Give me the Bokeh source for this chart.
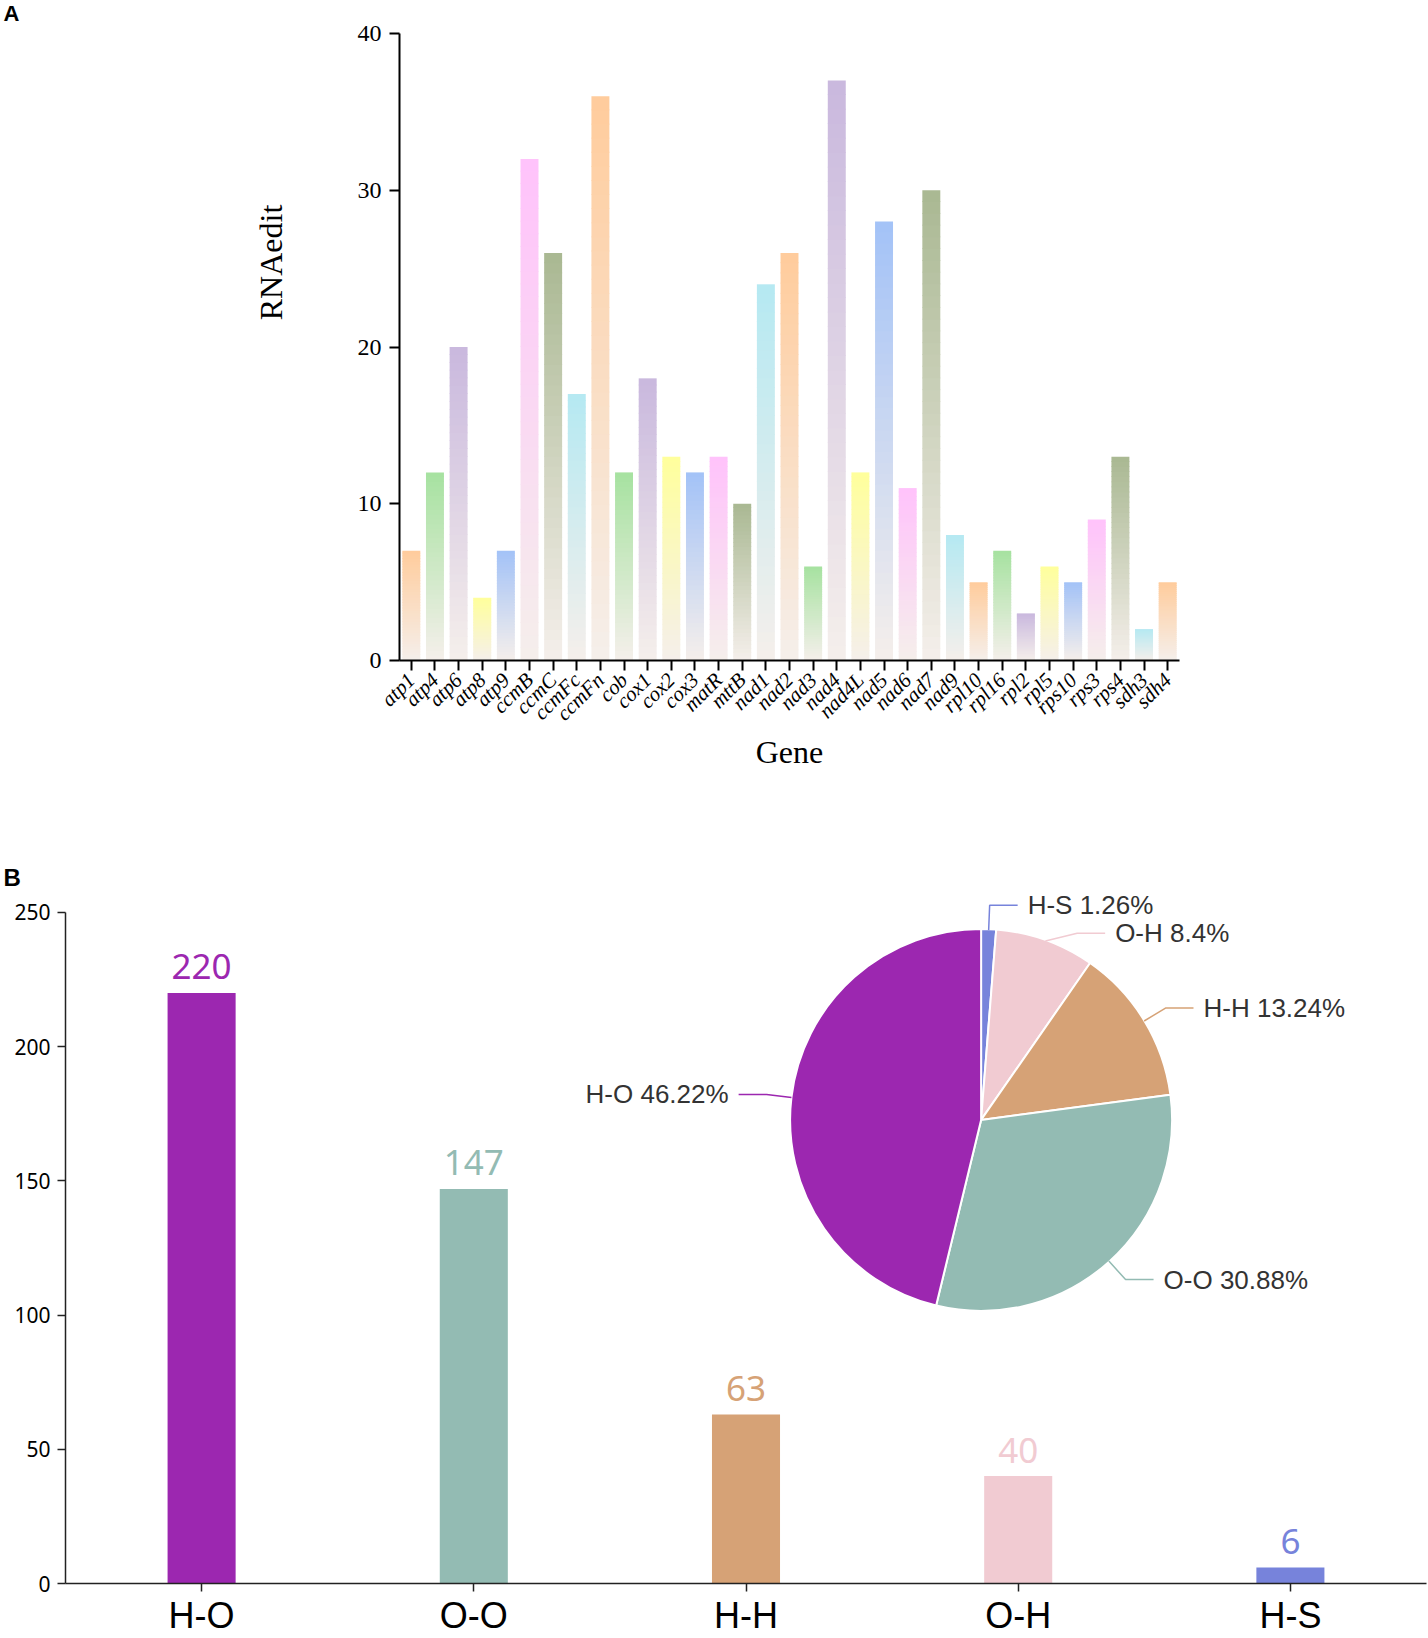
import math
from bokeh.plotting import figure
from bokeh.models import ColumnDataSource, Range1d, FixedTicker, LabelSet
from bokeh.layouts import row
from bokeh.embed import file_html
from bokeh.resources import INLINE
from bokeh.core.properties import value

# ---------------- data ----------------
genes = ["atp1", "atp4", "atp6", "atp8", "atp9", "ccmB", "ccmC", "ccmFc", "ccmFn", "cob",
         "cox1", "cox2", "cox3", "matR", "mttB", "nad1", "nad2", "nad3", "nad4", "nad4L",
         "nad5", "nad6", "nad7", "nad9", "rpl10", "rpl16", "rpl2", "rpl5", "rps10", "rps3",
         "rps4", "sdh3", "sdh4"]
rna_edit = [7, 12, 20, 4, 7, 32, 26, 17, 36, 12,
            18, 13, 12, 13, 10, 24, 26, 6, 37, 12,
            28, 11, 30, 8, 5, 7, 3, 6, 5, 9,
            13, 2, 5]
a_yticks = [0, 10, 20, 30, 40]

pair_types = ["H-O", "O-O", "H-H", "O-H", "H-S"]
pair_counts = [220, 147, 63, 40, 6]
b_yticks = [0, 50, 100, 150, 200, 250]

# ---------------- styles ----------------
gene_palette = ["#ffcc9c", "#a6e2a0", "#c9b8de", "#ffff9c", "#a3c2f7", "#ffc2fb", "#a9b892", "#b5e9f2"]
FADE = "#f5efeb"
pair_colors = ["#9c27b0", "#93bbb3", "#d6a276", "#f1cbd2", "#7783db"]
SERIF = "Liberation Serif"
SANS = "Noto Sans"
ARIAL = "Liberation Sans"
W = 1428
H = 1638


def mix(c1, c2, t):
    a = [int(c1[i:i + 2], 16) for i in (1, 3, 5)]
    b = [int(c2[i:i + 2], 16) for i in (1, 3, 5)]
    return "#%02x%02x%02x" % tuple(round(a[j] + (b[j] - a[j]) * t) for j in range(3))


def blank(width, height, x0, x1, y_bottom, y_top, **kw):
    f = figure(width=width, height=height, x_range=Range1d(x0, x1), y_range=Range1d(y_bottom, y_top),
               output_backend="svg", toolbar_location=None, x_axis_location=None, y_axis_location=None,
               min_border_left=0, min_border_right=0, **kw)
    f.outline_line_color = None
    f.grid.grid_line_color = None
    return f


# ---------- header "A" (page y 0..25) ----------
A_top_page = 25
hdrA = blank(W, A_top_page, 0, W, A_top_page, 0, min_border_top=0, min_border_bottom=0)
hdrA.text(x=[3], y=[12.5], text=["A"], text_align="left", text_baseline="middle",
          text_font=value(ARIAL), text_font_style="bold", text_font_size="22px", text_color="black")

# ================= Panel A (page y 25..856) =================
A_end_page = 856
A_h = A_end_page - A_top_page
A_left, A_right, A_top, A_bottom = 399, 1179, 33, 660
A_lb = 60
labA_w = A_left - A_lb
gx = list(range(len(genes)))
pA = figure(x_range=Range1d(-0.5, len(genes) - 0.5), y_range=Range1d(0, 40),
            width=W - labA_w, height=A_h, output_backend="svg", toolbar_location=None,
            min_border_left=A_lb, min_border_right=W - A_right,
            min_border_top=A_top - A_top_page, min_border_bottom=A_end_page - A_bottom)
pA.outline_line_color = None
pA.grid.grid_line_color = None

N = 40
xs, bots, tops, cols = [], [], [], []
for i, v in zip(gx, rna_edit):
    top_col = gene_palette[i % len(gene_palette)]
    for k in range(N):
        xs.append(i)
        bots.append(v * k / N)
        tops.append(min(v, v * (k + 1) / N + 0.05))
        cols.append(mix(FADE, top_col, (k + 0.5) / N))
srcA = ColumnDataSource(dict(x=xs, bottom=bots, top=tops, color=cols))
pA.vbar(x="x", bottom="bottom", top="top", width=0.76, fill_color="color", line_color=None, source=srcA)

pA.yaxis.ticker = FixedTicker(ticks=a_yticks)
pA.xaxis.ticker = FixedTicker(ticks=gx)
pA.xaxis.major_label_overrides = {i: g for i, g in zip(gx, genes)}
for ax in (pA.xaxis[0], pA.yaxis[0]):
    ax.axis_line_width = 2
    ax.axis_line_color = "black"
    ax.major_tick_line_width = 2
    ax.major_tick_line_color = "black"
    ax.major_tick_out = 10
    ax.major_tick_in = 0
    ax.minor_tick_line_color = None
    ax.major_label_text_font = SERIF
    ax.major_label_text_color = "black"
pA.yaxis.major_label_text_font_size = "24px"
pA.yaxis.major_label_standoff = 8
pA.xaxis.major_label_text_font_size = "21px"
pA.xaxis.major_label_text_font_style = "italic"
pA.xaxis.major_label_orientation = math.pi / 4
pA.xaxis.major_label_standoff = 6
pA.xaxis.axis_label = "Gene"
pA.xaxis.axis_label_text_font = SERIF
pA.xaxis.axis_label_text_font_size = "32px"
pA.xaxis.axis_label_text_font_style = "normal"
pA.xaxis.axis_label_text_color = "black"
pA.xaxis.axis_label_standoff = -3

# y-axis title of panel A (sits above the axis middle, as in the reference)
labA = blank(labA_w, A_h, 0, labA_w, A_bottom, A_top,
             min_border_top=A_top - A_top_page, min_border_bottom=A_end_page - A_bottom)
labA.text(x=[270], y=[262], text=["RNAedit"], angle=math.pi / 2, text_align="center",
          text_baseline="middle", text_font=value(SERIF), text_font_size="32px", text_color="black")

# ---------- header "B" (page y 856..890) ----------
B_pagetop = 890
hdrB = blank(W, B_pagetop - A_end_page, 0, W, B_pagetop, A_end_page, min_border_top=0, min_border_bottom=0)
hdrB.text(x=[3], y=[876.5], text=["B"], text_align="left", text_baseline="middle",
          text_font=value(ARIAL), text_font_style="bold", text_font_size="24px", text_color="black")

# ================= Panel B (page y 890..1638) =================
B_left, B_right, B_top, B_bottom = 65, 1426, 895, 1587
B_y250 = 912
B_h = H - B_pagetop
y_end = 250 * (B_bottom - B_top) / (B_bottom - B_y250)
bx = list(range(len(pair_types)))
pB = figure(x_range=Range1d(-0.5, len(pair_types) - 0.5), y_range=Range1d(0, y_end),
            width=W, height=B_h, output_backend="svg", toolbar_location=None,
            min_border_left=B_left, min_border_right=W - B_right,
            min_border_top=B_top - B_pagetop, min_border_bottom=H - B_bottom)
pB.extra_x_ranges = {"px": Range1d(B_left, B_right)}
pB.extra_y_ranges = {"px": Range1d(B_bottom, B_top)}
pB.outline_line_color = None
pB.grid.grid_line_color = None

srcB = ColumnDataSource(dict(x=bx, top=pair_counts, color=pair_colors,
                             label=[str(c) for c in pair_counts]))
pB.vbar(x="x", top="top", width=0.25, fill_color="color", line_color=None, source=srcB)
pB.text(x="x", y="top", text="label", text_color="color", source=srcB, text_align="center",
        text_baseline="middle", y_offset=-26, text_font=value(SANS), text_font_size="35px")

pB.yaxis.ticker = FixedTicker(ticks=b_yticks)
pB.yaxis.bounds = (0, 250)
pB.xaxis.ticker = FixedTicker(ticks=bx)
pB.xaxis.major_label_overrides = {i: t for i, t in zip(bx, pair_types)}
for ax in (pB.xaxis[0], pB.yaxis[0]):
    ax.axis_line_width = 1.5
    ax.axis_line_color = "#222222"
    ax.major_tick_line_width = 1.5
    ax.major_tick_line_color = "#222222"
    ax.major_tick_out = 8
    ax.major_tick_in = 0
    ax.minor_tick_line_color = None
    ax.major_label_text_color = "black"
pB.yaxis.major_label_text_font = SANS
pB.yaxis.major_label_text_font_size = "21px"
pB.yaxis.major_label_standoff = 7
pB.xaxis.major_label_text_font = ARIAL
pB.xaxis.major_label_text_font_size = "36px"
pB.xaxis.major_label_standoff = 3

# ---- pie (clockwise from 12 o'clock, smallest category first) ----
cx, cy, R = 980.6, 1120.7, 191
total = sum(pair_counts)
order = list(range(len(pair_types)))[::-1]
starts, ends, wcols = [], [], []
lines_x, lines_y, lcols = [], [], []
right_lab = dict(x=[], y=[], t=[])
left_lab = dict(x=[], y=[], t=[])
L1, L2, GAP = 25, 28, 10
cum = 0.0
prev_right_y = -1e9
for idx in order:
    frac = pair_counts[idx] / total
    th0, th1 = cum * 2 * math.pi, (cum + frac) * 2 * math.pi
    starts.append(math.pi / 2 - th1)
    ends.append(math.pi / 2 - th0)
    wcols.append(pair_colors[idx])
    mid = (th0 + th1) / 2
    ex, ey = cx + R * math.sin(mid), cy - R * math.cos(mid)
    rx, ry = cx + (R + L1) * math.sin(mid), cy - (R + L1) * math.cos(mid)
    pct = "%g%%" % round(frac * 100, 2)
    txt = "%s %s" % (pair_types[idx], pct)
    if math.sin(mid) >= 0:
        shift = max(0.0, prev_right_y + 28 - ry)
        ry2 = ry + shift
        rx2 = rx + 1.5 * shift
        prev_right_y = ry2
        hx = rx2 + L2
        right_lab["x"].append(hx + GAP); right_lab["y"].append(ry2); right_lab["t"].append(txt)
    else:
        ry2, rx2 = ry, rx
        hx = rx2 - L2
        left_lab["x"].append(hx - GAP); left_lab["y"].append(ry2); left_lab["t"].append(txt)
    lines_x.append([ex, rx2, hx]); lines_y.append([ey, ry2, ry2]); lcols.append(pair_colors[idx])
    cum += frac

pB.wedge(x=[cx] * len(order), y=[cy] * len(order), radius=R, start_angle=starts, end_angle=ends,
         direction="anticlock", fill_color=wcols, line_color="white", line_width=2,
         x_range_name="px", y_range_name="px")
pB.multi_line(xs=lines_x, ys=lines_y, line_color=lcols, line_width=1.5,
              x_range_name="px", y_range_name="px")
pB.add_layout(LabelSet(x="x", y="y", text="t", source=ColumnDataSource(right_lab), text_align="left",
                       text_baseline="middle", text_font=value(ARIAL), text_font_size="26px",
                       text_color="#333333", x_range_name="px", y_range_name="px"))
pB.add_layout(LabelSet(x="x", y="y", text="t", source=ColumnDataSource(left_lab), text_align="right",
                       text_baseline="middle", text_font=value(ARIAL), text_font_size="26px",
                       text_color="#333333", x_range_name="px", y_range_name="px"))

roots = [hdrA, row(labA, pA, spacing=0), hdrB, pB]
open("out.html", "w").write(file_html(roots, INLINE))
